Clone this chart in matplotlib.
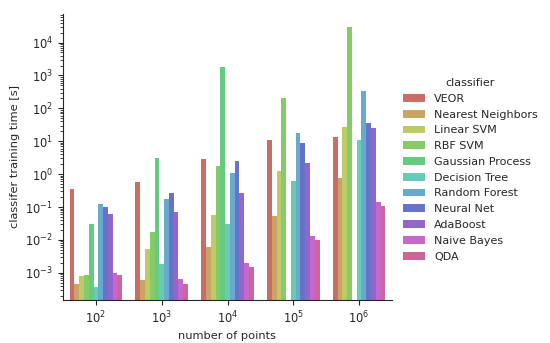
import numpy as np
import pandas as pd
import matplotlib
matplotlib.use("Agg")
import matplotlib.pyplot as plt
import seaborn as sns

points = ["100", "1000", "10000", "100000", "1000000"]
tick_labels = ["$10^2$", "$10^3$", "$10^4$", "$10^5$", "$10^6$"]
classifiers = ["VEOR", "Nearest Neighbors", "Linear SVM", "RBF SVM",
               "Gaussian Process", "Decision Tree", "Random Forest",
               "Neural Net", "AdaBoost", "Naive Bayes", "QDA"]

nan = np.nan
times = {
    "VEOR":              [0.35,   0.57,   2.86,   10.7,   13.9],
    "Nearest Neighbors": [4.5e-4, 6.0e-4, 6.1e-3, 0.052,  0.79],
    "Linear SVM":        [7.9e-4, 5.2e-3, 0.056,  1.26,   27.0],
    "RBF SVM":           [8.5e-4, 0.018,  1.8,    210.0,  30800.0],
    "Gaussian Process":  [0.030,  3.0,    1820.0, nan,    nan],
    "Decision Tree":     [3.7e-4, 1.8e-3, 0.031,  0.60,   10.7],
    "Random Forest":     [0.126,  0.175,  1.1,    17.9,   335.0],
    "Neural Net":        [0.10,   0.27,   2.5,    8.9,    37.0],
    "AdaBoost":          [0.061,  0.072,  0.26,   2.25,   25.0],
    "Naive Bayes":       [1.0e-3, 6.4e-4, 2.0e-3, 0.0135, 0.14],
    "QDA":               [8.5e-4, 4.5e-4, 1.5e-3, 0.010,  0.105],
}

rows = []
for c in classifiers:
    for p, v in zip(points, times[c]):
        rows.append({"points": p, "classifier": c, "time": v})
df = pd.DataFrame(rows)

sns.set_style("ticks")
plt.rcParams['font.family'] = ['DejaVu Sans']
fig = plt.figure(figsize=(5.5, 3.43), dpi=100)
ax = fig.add_axes([63/550, 1-299.5/343, (392-63)/550, (299.5-14)/343])

palette = sns.hls_palette(len(classifiers))
sns.barplot(data=df, x="points", y="time", hue="classifier", order=points,
            hue_order=classifiers, palette=palette, errorbar=None, ax=ax,
            saturation=0.75, linewidth=0)
ax.set_yscale("log")
ax.set_ylim(1.55e-4, 7.4e4)
ax.set_xlim(-0.5, 4.5)
ax.set_xticks(range(len(points)))
ax.set_xticklabels(tick_labels)
ax.set_xlabel("number of points", fontsize=8.2)
ax.set_ylabel("classifer training time [s]", fontsize=8.2)
ax.tick_params(labelsize=8.3)
sns.despine(ax=ax)

handles, labels = ax.get_legend_handles_labels()
ax.get_legend().remove()
leg = fig.legend(handles, labels, title="classifier", loc="center left",
                 bbox_to_anchor=(393/550, 0.505), frameon=False, fontsize=8.0,
                 title_fontsize=8.0, labelspacing=0.52)

fig.savefig("out.png", dpi=100)
